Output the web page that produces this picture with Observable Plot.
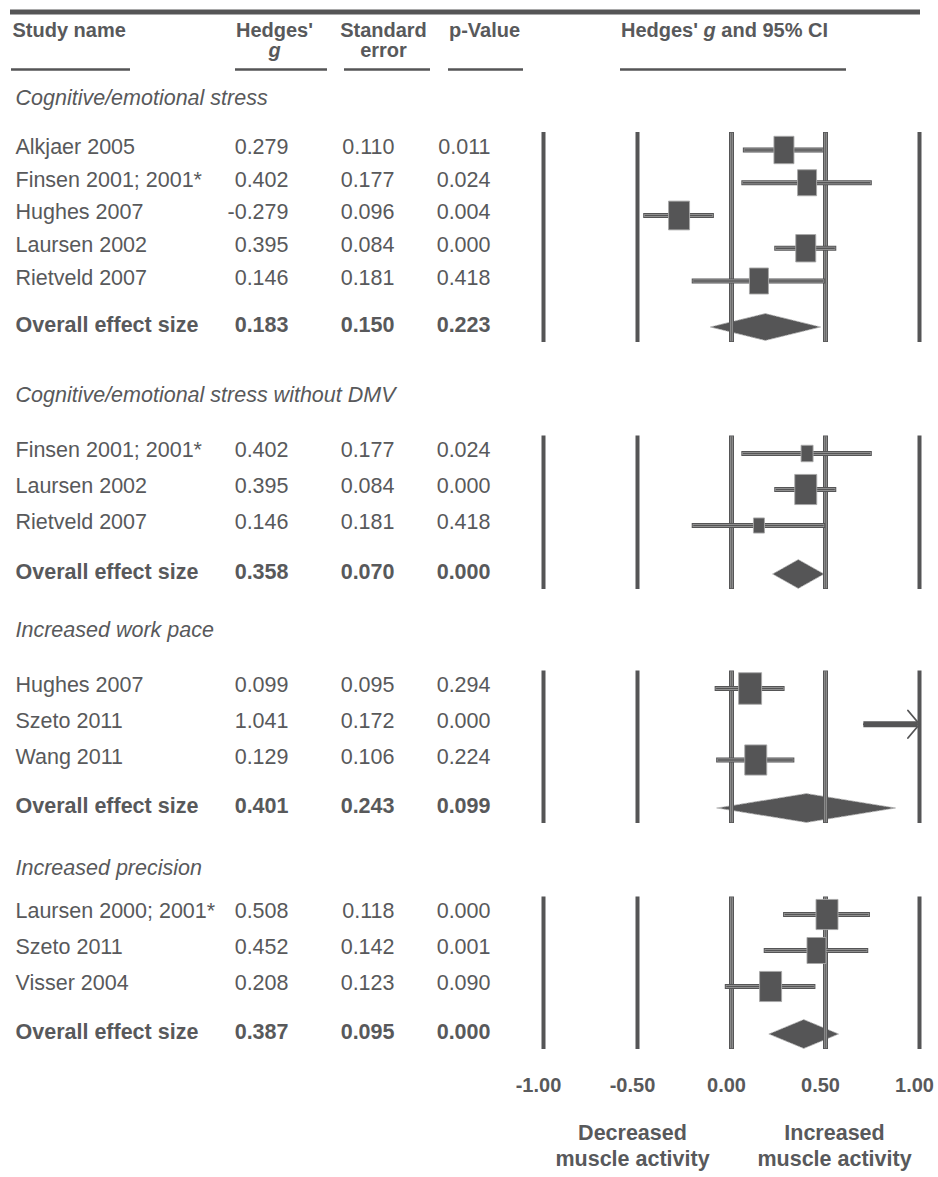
<!DOCTYPE html>
<html>
<head>
<meta charset="utf-8">
<script src="https://cdn.jsdelivr.net/npm/d3@7"></script>
<script src="https://cdn.jsdelivr.net/npm/@observablehq/plot@0.6"></script>
<style>
  html, body { margin: 0; padding: 0; background: #fff; }
  #chart svg { display: block; }
</style>
</head>
<body>
<div id="chart"></div>
<script>
// ---------------- DATA ----------------
const groupTitles = [
  "Cognitive/emotional stress",
  "Cognitive/emotional stress without DMV",
  "Increased work pace",
  "Increased precision"
];
const studyGroup = [0, 0, 0, 0, 0, 1, 1, 1, 2, 2, 2, 3, 3, 3];
const studyNames = [
  "Alkjaer 2005", "Finsen 2001; 2001*", "Hughes 2007", "Laursen 2002", "Rietveld 2007",
  "Finsen 2001; 2001*", "Laursen 2002", "Rietveld 2007",
  "Hughes 2007", "Szeto 2011", "Wang 2011",
  "Laursen 2000; 2001*", "Szeto 2011", "Visser 2004"
];
const studyG  = [0.279, 0.402, -0.279, 0.395, 0.146, 0.402, 0.395, 0.146, 0.099, 1.041, 0.129, 0.508, 0.452, 0.208];
const studySE = [0.110, 0.177, 0.096, 0.084, 0.181, 0.177, 0.084, 0.181, 0.095, 0.172, 0.106, 0.118, 0.142, 0.123];
const studyP  = [0.011, 0.024, 0.004, 0.000, 0.418, 0.024, 0.000, 0.418, 0.294, 0.000, 0.224, 0.000, 0.001, 0.090];
const studyLower = [0.063, 0.055, -0.467, 0.230, -0.209, 0.055, 0.230, -0.209, -0.087, 0.704, -0.079, 0.277, 0.174, -0.033];
const studyUpper = [0.495, 0.749, -0.091, 0.560, 0.501, 0.749, 0.560, 0.501, 0.285, 1.378, 0.337, 0.739, 0.730, 0.449];
const studyWeight = [20, 19, 21, 20, 19, 12, 22, 11, 23, 20, 22, 22, 19, 22]; // relative weight (box size)

const overallLabel = "Overall effect size";
const overallG  = [0.183, 0.358, 0.401, 0.387];
const overallSE = [0.150, 0.070, 0.243, 0.095];
const overallP  = [0.223, 0.000, 0.099, 0.000];
const overallLower = [-0.111, 0.221, -0.075, 0.201];
const overallUpper = [0.477, 0.495, 0.877, 0.573];

const xTicks = [-1, -0.5, 0, 0.5, 1];
const xTickLabels = ["-1.00", "-0.50", "0.00", "0.50", "1.00"];
const doubleRuleTicks = [0, 0.5];
const directionLabels = ["Decreased\nmuscle activity", "Increased\nmuscle activity"];

// ---------------- LAYOUT ----------------
const W = 938, H = 1177;
const FONT = '"Liberation Sans", Arial, Helvetica, sans-serif';
const INK = "#58595b";
const DARK = "#555556";
const fmt = v => v.toFixed(3);

const layout = {
  firstTitle: 98,
  titleToFirst: [51.5, 58, 58, 46],
  rowStep: [32.75, 36, 35.75, 36],
  lastToOverall: [46.5, 49, 48.5, 48],
  overallToNextTitle: [68, 56, 60],
  ruleAbove: 17.5, ruleBelow: 15,
  textShift: -3,
  diamondHalf: [13.5, 14.5, 14.5, 14.5]
};

const titleY = [], overallY = [], firstRowY = [], rowY = [];
for (let k = 0; k < groupTitles.length; k++) {
  const t = k === 0 ? layout.firstTitle : overallY[k - 1] + layout.overallToNextTitle[k - 1];
  titleY[k] = t;
  const idx = studyGroup.map((g, i) => g === k ? i : -1).filter(i => i >= 0);
  firstRowY[k] = t + layout.titleToFirst[k];
  idx.forEach((i, j) => { rowY[i] = firstRowY[k] + j * layout.rowStep[k]; });
  overallY[k] = rowY[idx[idx.length - 1]] + layout.lastToOverall[k];
}

const rows = studyNames.map((name, i) => ({
  name, group: studyGroup[i], g: studyG[i], se: studySE[i], p: studyP[i],
  lo: studyLower[i], hi: studyUpper[i], w: studyWeight[i], y: rowY[i]
}));
const inRange = rows.filter(d => d.g <= 1 && d.hi <= 1);
const clipped = rows.filter(d => d.hi > 1);
const boxRows = rows.filter(d => d.g <= 1);

const overalls = overallG.map((g, k) => ({
  g, se: overallSE[k], p: overallP[k], lo: overallLower[k], hi: overallUpper[k], y: overallY[k]
}));
const diamondPts = overalls.flatMap((d, k) => [
  {k, x: d.lo, y1: d.y, y2: d.y},
  {k, x: d.g, y1: d.y - layout.diamondHalf[k], y2: d.y + layout.diamondHalf[k]},
  {k, x: d.hi, y1: d.y, y2: d.y}
]);

const gridRules = groupTitles.flatMap((_, k) => xTicks.map(x => ({
  x, y1: firstRowY[k] - layout.ruleAbove, y2: overallY[k] + layout.ruleBelow
})));
const solidRules = gridRules.filter(d => !doubleRuleTicks.includes(d.x));
const doubleRules = gridRules.filter(d => doubleRuleTicks.includes(d.x));

const boxSymbol = {
  draw(ctx, size) {
    const r = Math.sqrt(size / Math.PI);
    const hw = r, hh = r * 1.37;
    ctx.moveTo(-hw, -hh); ctx.lineTo(hw, -hh); ctx.lineTo(hw, hh); ctx.lineTo(-hw, hh); ctx.closePath();
  }
};

// column positions (pixels from left)
const col = {name: 15, g: 288, se: 394, p: 490};
const headY = 30, subY = 50, underlineY = 69;

function underline(left, right, width = 2.5) {
  return Plot.ruleY([underlineY], {y: d => d, insetLeft: left, insetRight: W - right, stroke: DARK, strokeWidth: width});
}

const txt = {fontSize: 21.5, fill: INK, frameAnchor: "left"};

const chart = Plot.plot({
  width: W, height: H,
  marginTop: 0, marginRight: 0, marginBottom: 0, marginLeft: 0,
  x: {domain: [-1, 1], range: [543, 919], axis: null},
  y: {domain: [0, H], range: [0, H], axis: null},
  r: {type: "linear", domain: [0, 100], range: [0, 50]},
  style: {fontFamily: FONT, background: "#fff", color: INK},
  marks: [
    // header
    Plot.ruleY([11.5], {y: d => d, insetLeft: 10, insetRight: W - 920, stroke: DARK, strokeWidth: 5}),
    Plot.text(["Study name"], {text: d => d, y: () => headY, frameAnchor: "left", dx: 12, textAnchor: "start", fontWeight: "bold", fontSize: 20, fill: INK}),
    Plot.text(["Hedges'"], {text: d => d, y: () => headY, frameAnchor: "left", dx: 274, textAnchor: "middle", fontWeight: "bold", fontSize: 20, fill: INK}),
    Plot.text(["g"], {text: d => d, y: () => subY, frameAnchor: "left", dx: 274, textAnchor: "middle", fontWeight: "bold", fontStyle: "italic", fontSize: 20, fill: INK}),
    Plot.text(["Standard"], {text: d => d, y: () => headY, frameAnchor: "left", dx: 383, textAnchor: "middle", fontWeight: "bold", fontSize: 20, fill: INK}),
    Plot.text(["error"], {text: d => d, y: () => subY, frameAnchor: "left", dx: 383, textAnchor: "middle", fontWeight: "bold", fontSize: 20, fill: INK}),
    Plot.text(["p-Value"], {text: d => d, y: () => headY, frameAnchor: "left", dx: 484, textAnchor: "middle", fontWeight: "bold", fontSize: 20, fill: INK}),
    Plot.text(["Hedges' g and 95% CI"], {text: d => d, y: () => headY, frameAnchor: "left", dx: 724, textAnchor: "middle", fontWeight: "bold", fontSize: 20, fill: INK, className: "ci-head"}),
    underline(11, 130), underline(235, 327), underline(344, 430), underline(448, 523), underline(620, 846),

    // group titles
    Plot.text(groupTitles, {...txt, text: d => d, y: (d, k) => titleY[k], dx: col.name, fontStyle: "italic"}),

    // study rows text
    Plot.text(rows, {...txt, text: "name", y: d => d.y + layout.textShift, dx: col.name}),
    Plot.text(rows, {...txt, text: d => fmt(d.g), y: d => d.y + layout.textShift, dx: col.g, textAnchor: "end"}),
    Plot.text(rows, {...txt, text: d => fmt(d.se), y: d => d.y + layout.textShift, dx: col.se, textAnchor: "end"}),
    Plot.text(rows, {...txt, text: d => fmt(d.p), y: d => d.y + layout.textShift, dx: col.p, textAnchor: "end"}),

    // overall rows text
    Plot.text(overalls, {...txt, text: () => overallLabel, y: d => d.y - 2, dx: col.name, fontWeight: "bold"}),
    Plot.text(overalls, {...txt, text: d => fmt(d.g), y: d => d.y - 2, dx: col.g, textAnchor: "end", fontWeight: "bold"}),
    Plot.text(overalls, {...txt, text: d => fmt(d.se), y: d => d.y - 2, dx: col.se, textAnchor: "end", fontWeight: "bold"}),
    Plot.text(overalls, {...txt, text: d => fmt(d.p), y: d => d.y - 2, dx: col.p, textAnchor: "end", fontWeight: "bold"}),

    // diamonds
    Plot.areaY(diamondPts, {x: "x", y1: "y1", y2: "y2", z: "k", fill: DARK, stroke: "#bdbdbd", strokeWidth: 0.8, strokeDasharray: "2,1.5"}),

    // grid rules
    Plot.ruleX(solidRules, {x: "x", y1: "y1", y2: "y2", stroke: DARK, strokeWidth: 4}),
    Plot.ruleX(doubleRules, {x: "x", y1: "y1", y2: "y2", stroke: DARK, strokeWidth: 5}),
    Plot.ruleX(doubleRules, {x: "x", y1: d => d.y1 + 0.8, y2: d => d.y2 - 0.8, stroke: "#8e8e8e", strokeWidth: 3}),
    Plot.ruleX(doubleRules, {x: "x", y1: d => d.y1 + 0.8, y2: d => d.y2 - 0.8, stroke: "#6a6a6a", strokeWidth: 1.2}),

    // CI bars
    Plot.ruleY(inRange, {y: "y", x1: "lo", x2: "hi", stroke: DARK, strokeWidth: 5}),
    Plot.ruleY(inRange, {y: "y", x1: "lo", x2: "hi", stroke: "#a3a3a3", strokeWidth: 3, insetLeft: 1, insetRight: 1}),
    Plot.ruleY(inRange, {y: "y", x1: "lo", x2: "hi", stroke: DARK, strokeWidth: 1.3, insetLeft: 1.5, insetRight: 1.5}),

    // clipped CI (arrow to the axis limit)
    Plot.ruleY(clipped, {y: "y", x1: "lo", x2: () => 1, stroke: DARK, strokeWidth: 6, insetRight: 2}),
    Plot.arrow(clipped, {x1: "lo", x2: () => 1, y1: "y", y2: "y", stroke: DARK, strokeWidth: 1.8, headLength: 15, headAngle: 100}),

    // study boxes
    Plot.dot(boxRows, {x: "g", y: "y", r: "w", symbol: boxSymbol, fill: DARK, stroke: "#a8a8a8", strokeWidth: 0.9}),

    // axis tick labels
    Plot.text(xTicks, {x: d => d, y: () => 1085, text: (d, i) => xTickLabels[i], dx: -5, fontWeight: "bold", fontSize: 20, fill: INK}),

    // direction labels
    Plot.text([directionLabels[0]], {x: () => -0.5, y: () => 1144, text: d => d, dx: -5, fontWeight: "bold", fontSize: 21.5, lineHeight: 1.21, fill: INK}),
    Plot.text([directionLabels[1]], {x: () => 0.5, y: () => 1144, text: d => d, dx: 9, fontWeight: "bold", fontSize: 21.5, lineHeight: 1.21, fill: INK})
  ]
});

// italic g inside the CI header
const ciText = chart.querySelector(".ci-head text");
if (ciText) {
  ciText.textContent = "";
  const ns = "http://www.w3.org/2000/svg";
  const parts = [["Hedges' ", null], ["g", "italic"], [" and 95% CI", null]];
  for (const [s, style] of parts) {
    const t = document.createElementNS(ns, "tspan");
    t.textContent = s;
    if (style) t.setAttribute("font-style", style);
    ciText.appendChild(t);
  }
}

document.getElementById("chart").appendChild(chart);
</script>
</body>
</html>
